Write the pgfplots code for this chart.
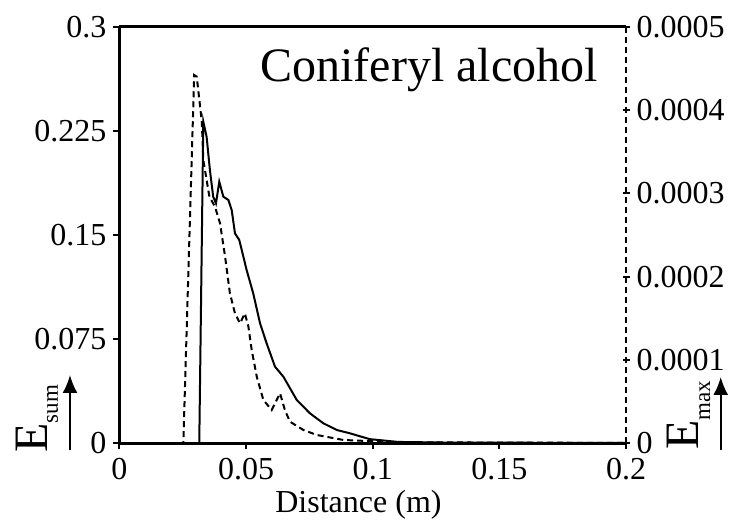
\documentclass[border=0pt]{standalone}
\usepackage{pgfplots}
\pgfplotsset{compat=1.18}
\usepackage{fontspec}
\setmainfont{Liberation Serif}
\usetikzlibrary{arrows.meta}

\pgfplotstableread{
x y
0 0
0.0315 0
0.0331 0.2316
0.0344 0.2208
0.0357 0.1968
0.0370 0.1776
0.0381 0.1728
0.0394 0.1884
0.0410 0.1776
0.0430 0.1752
0.0443 0.1680
0.0456 0.1512
0.0473 0.1464
0.0502 0.1248
0.0528 0.1080
0.0555 0.0864
0.0581 0.0720
0.0614 0.0552
0.0647 0.0480
0.0700 0.0312
0.0752 0.0216
0.0805 0.0144
0.0858 0.0096
0.0910 0.0072
0.0988 0.0030
0.1100 0.0010
0.1300 0.0005
0.2000 0.0003
}\esum

\pgfplotstableread{
x y
0 0
0.0252 0
0.0295 0.000442
0.0305 0.000440
0.0325 0.000386
0.0331 0.000340
0.0355 0.000296
0.0377 0.000284
0.0397 0.000264
0.0417 0.000224
0.0436 0.000180
0.0456 0.000156
0.0476 0.000144
0.0495 0.000156
0.0509 0.000140
0.0522 0.000112
0.0542 0.0000800
0.0568 0.0000520
0.0601 0.0000400
0.0634 0.0000600
0.0653 0.0000400
0.0673 0.0000260
0.0726 0.0000160
0.0779 0.0000100
0.0884 0.0000040
0.1100 0.0000012
0.2000 0.0000005
}\emax

\begin{document}
\begin{tikzpicture}
\begin{axis}[
  scale only axis, width=253.25pt, height=208.3pt,
  xmin=0, xmax=0.2, ymin=0, ymax=0.3,
  axis x line*=box, axis y line*=left,
  xtick pos=bottom, ytick pos=left,
  tick align=outside,
  major tick length=3pt,
  every tick/.style={black, line width=1pt},
  axis line style={line width=1.2pt, black},
  xtick={0,0.05,0.1,0.15,0.2},
  xticklabels={0,0.05,0.1,0.15,0.2},
  ytick={0,0.075,0.15,0.225,0.3},
  yticklabels={0,0.075,0.15,0.225,0.3},
  scaled x ticks=false, scaled y ticks=false,
  tick label style={font=\fontsize{16}{19}\selectfont},
  xticklabel style={inner ysep=0pt, inner xsep=0pt, yshift=-4.5pt},
  /pgf/number format/assume math mode=true,
  xlabel={Distance (m)},
  xlabel style={font=\fontsize{16}{19}\selectfont, at={(axis description cs:0.307,-0.1666)}, anchor=base west, inner sep=0pt},
  clip=false,
]
\addplot[black, line width=1pt] table[x=x, y=y] {\esum};
\node[anchor=base west, inner sep=0pt, font=\fontsize{24}{28}\selectfont] at (axis description cs:0.2774,0.868) {Coniferyl alcohol};
\node[rotate=90, anchor=base west, inner sep=0pt, font=\fontsize{24}{28}\selectfont] at (axis description cs:-0.1412,-0.0233) {E{\fontsize{11.5}{13}\selectfont\raisebox{-5pt}{sum}}};
\draw[line width=1pt, -{Latex[length=9pt,width=7.5pt]}] (axis description cs:-0.0977,-0.0161) -- (axis description cs:-0.0977,0.164);
\coordinate (BL) at (axis description cs:-0.2359,-0.1841);
\coordinate (TR) at (axis description cs:1.2428,1.0641);
\end{axis}
\begin{axis}[
  scale only axis, width=253.25pt, height=208.3pt,
  xmin=0, xmax=0.2, ymin=0, ymax=0.0005,
  axis x line=none, axis y line*=right,
  ytick pos=right,
  tick align=center,
  major tick length=3.5pt,
  every tick/.style={black, line width=1pt},
  axis line style={line width=1pt, black, dash pattern=on 3pt off 2pt},
  ytick={0,0.0001,0.0002,0.0003,0.0004,0.0005},
  yticklabels={0,0.0001,0.0002,0.0003,0.0004,0.0005},
  scaled y ticks=false,
  tick label style={font=\fontsize{16}{19}\selectfont},
  yticklabel style={inner ysep=0pt},
  /pgf/number format/assume math mode=true,
  clip=false,
]
\addplot[black, line width=1pt, dash pattern=on 3pt off 2pt] table[x=x, y=y] {\emax};
\node[rotate=90, anchor=base west, inner sep=0pt, font=\fontsize{24}{28}\selectfont] at (axis description cs:1.1422,-0.0161) {E{\fontsize{11.5}{13}\selectfont\raisebox{-6pt}{max}}};
\draw[line width=1pt, -{Latex[length=9pt,width=7.5pt]}] (axis description cs:1.187,-0.0161) -- (axis description cs:1.187,0.1592);
\end{axis}
\pgfresetboundingbox
\path[use as bounding box] (BL) rectangle (TR);
\end{tikzpicture}
\end{document}
